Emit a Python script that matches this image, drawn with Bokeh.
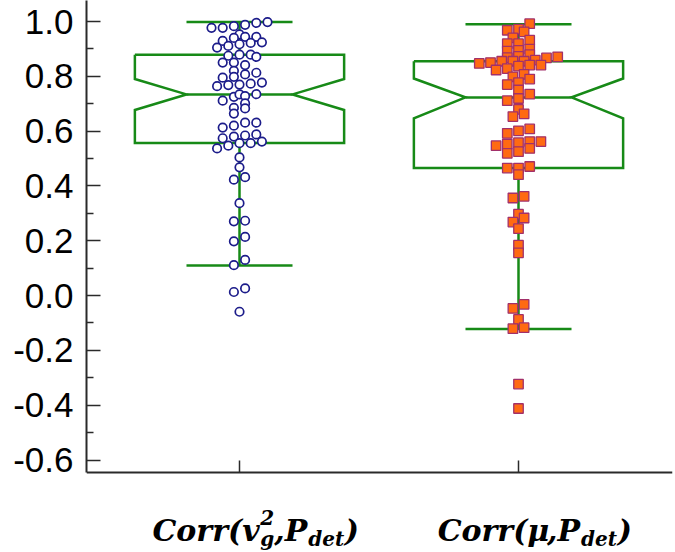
from bokeh.plotting import figure
from bokeh.models import FixedTicker, Label, Range1d, ColumnDataSource
from bokeh.embed import file_html
from bokeh.resources import INLINE

# ---------------- data ----------------
cat_x = [1, 2]

# box statistics (Corr(v_g^2,P_det), Corr(mu,P_det))
whisker_hi = [0.998, 0.990]
q3 = [0.879, 0.855]
notch_hi = [0.790, 0.792]
median = [0.734, 0.723]
notch_lo = [0.677, 0.647]
q1 = [0.557, 0.465]
whisker_lo = [0.110, -0.122]

# individual correlations, first group (circles) with swarm column slots
v_vals = [0.977, 0.977, 0.983, 0.988, 0.995, 0.998,
          0.953, 0.940, 0.944, 0.944, 0.929, 0.924, 0.905, 0.911, 0.917, 0.922,
          0.875, 0.879, 0.879, 0.871,
          0.850, 0.850, 0.841,
          0.820, 0.807, 0.813,
          0.795, 0.798,
          0.764, 0.768, 0.770, 0.773, 0.777,
          0.711, 0.725, 0.734, 0.728, 0.735,
          0.685, 0.701, 0.683, 0.664,
          0.613, 0.620, 0.631, 0.631,
          0.574, 0.580, 0.584, 0.588, 0.562, 0.537, 0.547, 0.556, 0.556,
          0.504, 0.468, 0.432, 0.423, 0.337, 0.273, 0.271, 0.214, 0.198,
          0.130, 0.111, 0.026, 0.013, -0.059]
v_slots = [-5, -3, -1, 1, 3, 5,
           0, -1, 1, 3, -3, 4, -4, -2, 0, 2,
           -2, 0, 2, 3,
           -3, -1, 1,
           -1, 1, 3,
           -3, -1,
           -4, -2, 0, 2, 4,
           -3, -1, 0, 1, 3,
           -1, 1, 1, -1,
           -3, -1, 1, 3,
           -3, -1, 1, 3, 4, -4, -2, 0, 2,
           0, 0, 1, -1, 0, 1, -1, 1, -1,
           1, -1, 1, -1, 0]

# second group (squares)
mu_vals = [0.992,
           0.968, 0.972, 0.962,
           0.940, 0.932, 0.919, 0.919,
           0.892, 0.895, 0.899,
           0.868, 0.873, 0.879,
           0.847, 0.850, 0.855, 0.855, 0.855, 0.859, 0.867, 0.871,
           0.823, 0.828, 0.837, 0.841, 0.841,
           0.798, 0.807, 0.777, 0.790,
           0.770,
           0.750, 0.735, 0.711, 0.719,
           0.679, 0.663, 0.653,
           0.592, 0.601, 0.608,
           0.547, 0.553, 0.558, 0.562, 0.562,
           0.519, 0.525, 0.537,
           0.465, 0.465, 0.471, 0.441,
           0.356, 0.362, 0.297, 0.283, 0.268, 0.244, 0.184, 0.156,
           -0.047, -0.032, -0.087, -0.121, -0.117, -0.323, -0.412]
mu_slots = [2,
            -2, 0, 1,
            -1, 2, 0, -2,
            -2, 0, 2,
            -2, 0, 2,
            -7, -5, -3, -1, 1, 3, 5, 7,
            -4, -2, 0, 2, 4,
            -1, 1, 0, 2,
            -2,
            0, 2, -2, 0,
            0, 1, -1,
            -2, 0, 2,
            -4, -2, 0, 2, 4,
            -2, 0, 2,
            -2, 0, 2, 0,
            -1, 1, 0, 1, -1, 0, 0, 0,
            -1, 1, 0, -1, 1, 0, 0]

yticks = [-0.6, -0.4, -0.2, 0.0, 0.2, 0.4, 0.6, 0.8, 1.0]
ylabels = ["-0.6", "-0.4", "-0.2", "0.0", "0.2", "0.4", "0.6", "0.8", "1.0"]

# ---------------- layout ----------------
W, H = 675, 552
BL, BR = 86, 3
PX_X = 279.0
TOP_TICK_PX = 21.0       # canvas y of the 1.0 tick
LOW_TICK_PX = 459.5      # canvas y of the -0.6 tick
AXIS_PX = 472.0          # canvas y of the x axis line
PX_Y = (LOW_TICK_PX - TOP_TICK_PX) / 1.6
frame_w = W - BL - BR
x_start = 1 - 153.0 / PX_X
x_end = x_start + frame_w / PX_X
y_end = 1.0 + TOP_TICK_PX / PX_Y
y_start = y_end - H / PX_Y
y_axis = y_end - AXIS_PX / PX_Y

p = figure(width=W, height=H, x_range=Range1d(x_start, x_end), y_range=Range1d(y_start, y_end),
           output_backend="svg", toolbar_location=None,
           min_border_left=BL, min_border_right=BR, min_border_top=0, min_border_bottom=0)
p.outline_line_color = None
p.xgrid.visible = False
p.ygrid.visible = False
p.background_fill_color = "white"
p.border_fill_color = "white"

AX = "#2a2a2a"
for ax in (p.xaxis[0], p.yaxis[0]):
    ax.axis_line_color = AX
    ax.axis_line_width = 2
    ax.major_tick_line_color = AX
    ax.major_tick_line_width = 1.5
    ax.minor_tick_line_color = AX
    ax.minor_tick_line_width = 1.5
    ax.major_tick_out = 0
    ax.minor_tick_out = 0

yminor = [round((a + b) / 2, 2) for a, b in zip(yticks[:-1], yticks[1:])]
p.yaxis.ticker = FixedTicker(ticks=yticks, minor_ticks=yminor)
p.yaxis.major_label_overrides = {t: l for t, l in zip(yticks, ylabels)}
p.yaxis.bounds = (y_axis, y_end)
p.yaxis.major_tick_in = 14
p.yaxis.minor_tick_in = 7
p.yaxis.major_label_text_font = "Liberation Sans"
p.yaxis.major_label_text_font_size = "35px"
p.yaxis.major_label_text_color = "black"
p.yaxis.major_label_standoff = 13

# x axis: category ticks only (no tick texts), drawn at the bottom of the value range
p.xaxis.ticker = FixedTicker(ticks=[], minor_ticks=cat_x)
p.xaxis.minor_tick_in = 12
p.xaxis.fixed_location = y_axis

# ---------------- boxes ----------------
GREEN = "#178a17"
HW, NW, CW = 0.375, 0.19, 0.19
outline_xs, outline_ys = [], []
seg_xs, seg_ys = [], []
for i, cx in enumerate(cat_x):
    outline_xs.append([cx - HW, cx + HW, cx + HW, cx + NW, cx + HW, cx + HW,
                       cx - HW, cx - HW, cx - NW, cx - HW, cx - HW])
    outline_ys.append([q3[i], q3[i], notch_hi[i], median[i], notch_lo[i], q1[i],
                       q1[i], notch_lo[i], median[i], notch_hi[i], q3[i]])
    seg_xs += [[cx - NW, cx + NW], [cx, cx], [cx, cx], [cx - CW, cx + CW], [cx - CW, cx + CW]]
    seg_ys += [[median[i], median[i]], [q3[i], whisker_hi[i]], [q1[i], whisker_lo[i]],
               [whisker_hi[i], whisker_hi[i]], [whisker_lo[i], whisker_lo[i]]]

p.multi_line(outline_xs, outline_ys, line_color=GREEN, line_width=2.5, line_join="miter")
p.multi_line(seg_xs, seg_ys, line_color=GREEN, line_width=2.5)

# ---------------- points ----------------
SLOT = 5.6 / PX_X
src1 = ColumnDataSource(dict(x=[cat_x[0] + s * SLOT for s in v_slots], y=v_vals))
src2 = ColumnDataSource(dict(x=[cat_x[1] + s * SLOT for s in mu_slots], y=mu_vals))
p.scatter("x", "y", source=src1, marker="circle", size=8.5, fill_color="white",
          line_color="#1c1c8a", line_width=1.7)
p.scatter("x", "y", source=src2, marker="square", size=9.5, fill_color="#ff6a12",
          line_color="#a2306a", line_width=1.3)

# ---------------- category labels (with sub/superscripts) ----------------
EM = {"C": 0.747, "o": 0.66, "r": 0.537, "(": 0.457, ")": 0.457, "v": 0.654, ",": 0.38,
      "P": 0.752, "d": 0.70, "e": 0.654, "t": 0.478, "g": 0.70, "2": 0.696, "\u03bc": 0.708}
MAIN_FS, SUB_FS = 30, 20


def tw(s, fs):
    return sum(EM.get(c, 0.6) for c in s) * fs


def canvas_y(c):
    return y_end - c / PX_Y


Y_MAIN = canvas_y(530)
Y_SUB = canvas_y(538)
Y_SUP = canvas_y(517)

label_parts = [
    [("Corr(v", "m"), (("2", "g"), "supsub"), (",P", "m"), ("det", "s"), (")", "m")],
    [("Corr(\u03bc", "m"), (",P", "m"), ("det", "s"), (")", "m")],
]


def add_piece(cx, off, text, fs, y):
    p.add_layout(Label(x=cx, y=y, x_offset=off, text=text, text_font="DejaVu Serif",
                       text_font_style="bold italic", text_font_size=f"{fs}px",
                       text_color="black", text_align="left", text_baseline="alphabetic"))


for cx, parts in zip(cat_x, label_parts):
    total = 0
    for t, kind in parts:
        if kind == "m":
            total += tw(t, MAIN_FS)
        elif kind == "s":
            total += tw(t, SUB_FS)
        else:
            total += max(tw(t[0], SUB_FS), tw(t[1], SUB_FS))
    off = 16 - total / 2
    for t, kind in parts:
        if kind == "m":
            add_piece(cx, off, t, MAIN_FS, Y_MAIN)
            off += tw(t, MAIN_FS)
        elif kind == "s":
            add_piece(cx, off, t, SUB_FS, Y_SUB)
            off += tw(t, SUB_FS)
        else:
            add_piece(cx, off, t[0], SUB_FS, Y_SUP)
            add_piece(cx, off, t[1], SUB_FS, Y_SUB)
            off += max(tw(t[0], SUB_FS), tw(t[1], SUB_FS))

open("out.html", "w").write(file_html(p, INLINE))
